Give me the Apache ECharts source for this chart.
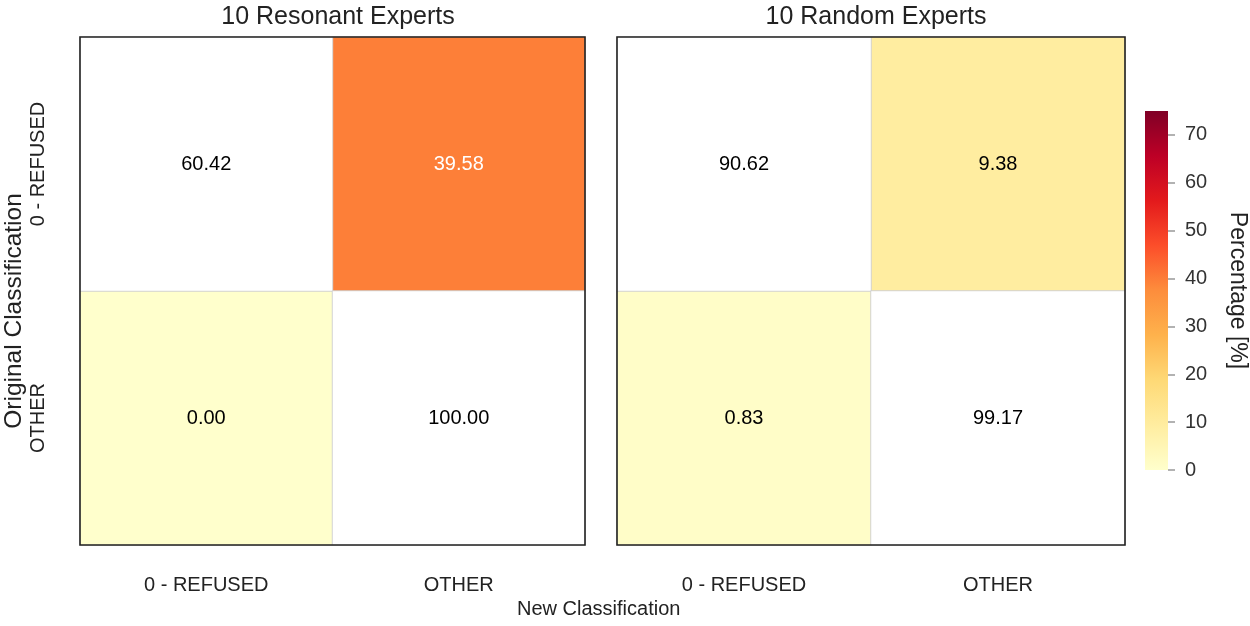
<!DOCTYPE html>
<html>
<head>
<meta charset="utf-8">
<script src="https://cdn.jsdelivr.net/npm/echarts@6/dist/echarts.min.js"></script>
<style>
html,body{margin:0;padding:0;background:#fff;}
#chart{width:1250px;height:626px;}
</style>
</head>
<body>
<div id="chart"></div>
<script>
// ---- data ----
const newClasses = ['0 - REFUSED', 'OTHER'];
const origClasses = ['0 - REFUSED', 'OTHER'];
const panelTitles = ['10 Resonant Experts', '10 Random Experts'];
// rows = original classification, cols = new classification
const resonantRefused = [60.42, 39.58];
const resonantOther = [0.00, 100.00];
const randomRefused = [90.62, 9.38];
const randomOther = [0.83, 99.17];
const colorbarTicks = [0, 10, 20, 30, 40, 50, 60, 70];
const colorMax = 75;
const ylorrd = ['#ffffcc','#ffeda0','#fed976','#feb24c','#fd8d3c','#fc4e2a','#e31a1c','#bd0026','#800026'];

const FONT = 'Liberation Sans, Arial, sans-serif';
const panels = [[resonantRefused, resonantOther], [randomRefused, randomOther]];

function buildData(matrix, diagonal) {
  const out = [];
  matrix.forEach((row, r) => {
    row.forEach((v, c) => {
      const isDiag = r === c;
      if (isDiag !== diagonal) return;
      out.push({
        value: [c, r, v],
        label: { color: (!isDiag && v > 30) ? '#ffffff' : '#000000' }
      });
    });
  });
  return out;
}

const CB = { left: 1145, top: 111, width: 23, height: 359 };

const grids = [
  { left: 80, top: 37, width: 505, height: 508 },
  { left: 617, top: 37, width: 508, height: 508 }
].map(g => Object.assign(g, { show: true, borderColor: '#222', borderWidth: 1.6, backgroundColor: 'transparent', z: 5 }));
grids.push({ left: CB.left, top: CB.top, width: CB.width, height: CB.height, show: false });

const xAxes = [0, 1].map(i => ({
  type: 'category', gridIndex: i, data: newClasses,
  axisLine: { show: false }, axisTick: { show: false }, splitLine: { show: false },
  axisLabel: { fontFamily: FONT, fontSize: 20, color: '#222', margin: 30 }
}));
xAxes.push({ type: 'value', gridIndex: 2, show: false, min: 0, max: 1,
  axisLine: { show: false }, axisTick: { show: false }, axisLabel: { show: false }, splitLine: { show: false } });

const yAxes = [0, 1].map(i => ({
  type: 'category', gridIndex: i, data: origClasses, inverse: true,
  axisLine: { show: false }, axisTick: { show: false }, splitLine: { show: false },
  axisLabel: { show: i === 0, rotate: 90, fontFamily: FONT, fontSize: 20, color: '#222', margin: 32 }
}));
yAxes.push({
  type: 'value', gridIndex: 2, position: 'right', min: 0, max: colorMax, interval: 10,
  axisLine: { show: false, onZero: false },
  axisTick: { show: true, inside: false, length: 7, customValues: colorbarTicks,
    lineStyle: { color: '#999', width: 1.5 } },
  splitLine: { show: false },
  axisLabel: { fontFamily: FONT, fontSize: 20, color: '#333', margin: 17, customValues: colorbarTicks,
    formatter: v => colorbarTicks.includes(v) ? String(v) : '' },
  name: 'Percentage [%]', nameLocation: 'middle', nameGap: 58, nameRotate: -90,
  nameTextStyle: { fontFamily: FONT, fontSize: 23, color: '#222' }
});

const series = [];
panels.forEach((m, i) => {
  series.push({
    type: 'heatmap', xAxisIndex: i, yAxisIndex: i,
    data: buildData(m, false),
    itemStyle: { borderColor: '#cccccc', borderWidth: 0.8 },
    label: { show: true, fontFamily: FONT, fontSize: 20, formatter: p => p.value[2].toFixed(2) },
    emphasis: { disabled: true }
  });
  series.push({
    type: 'heatmap', xAxisIndex: i, yAxisIndex: i,
    data: buildData(m, true),
    itemStyle: { color: '#ffffff', borderColor: '#cccccc', borderWidth: 0.8 },
    label: { show: true, fontFamily: FONT, fontSize: 20, formatter: p => p.value[2].toFixed(2) },
    emphasis: { disabled: true }
  });
});
series.push({ type: 'scatter', xAxisIndex: 2, yAxisIndex: 2, data: [] });

// colorbar gradient stops (top = max)
const cbStops = ylorrd.map((c, k) => ({ offset: 1 - k / (ylorrd.length - 1), color: c })).reverse();

const option = {
  backgroundColor: '#ffffff',
  animation: false,
  title: panelTitles.map((t, i) => ({
    text: t, left: i === 0 ? 333 : 871, top: 0, textAlign: 'center',
    textStyle: { fontFamily: FONT, fontSize: 25, fontWeight: 'normal', color: '#222' }
  })),
  grid: grids,
  xAxis: xAxes,
  yAxis: yAxes,
  visualMap: {
    type: 'continuous', show: false, min: 0, max: colorMax, seriesIndex: [0, 2],
    inRange: { color: ylorrd }
  },
  graphic: [
    {
      type: 'rect', left: CB.left, top: CB.top, z: -10, zlevel: 0,
      shape: { width: CB.width, height: CB.height },
      style: { fill: new echarts.graphic.LinearGradient(0, 0, 0, 1, cbStops) }
    },
    {
      type: 'text', x: 14, y: 311, rotation: Math.PI / 2,
      style: { text: 'Original Classification', font: '24.5px ' + FONT, fill: '#222',
        textAlign: 'center', textVerticalAlign: 'middle' }
    },
    {
      type: 'text', left: 517, top: 599,
      style: { text: 'New Classification', font: '20px ' + FONT, fill: '#222' }
    }
  ],
  series: series
};

const chart = echarts.init(document.getElementById('chart'), null, { renderer: 'canvas' });
chart.setOption(option);
</script>
</body>
</html>
